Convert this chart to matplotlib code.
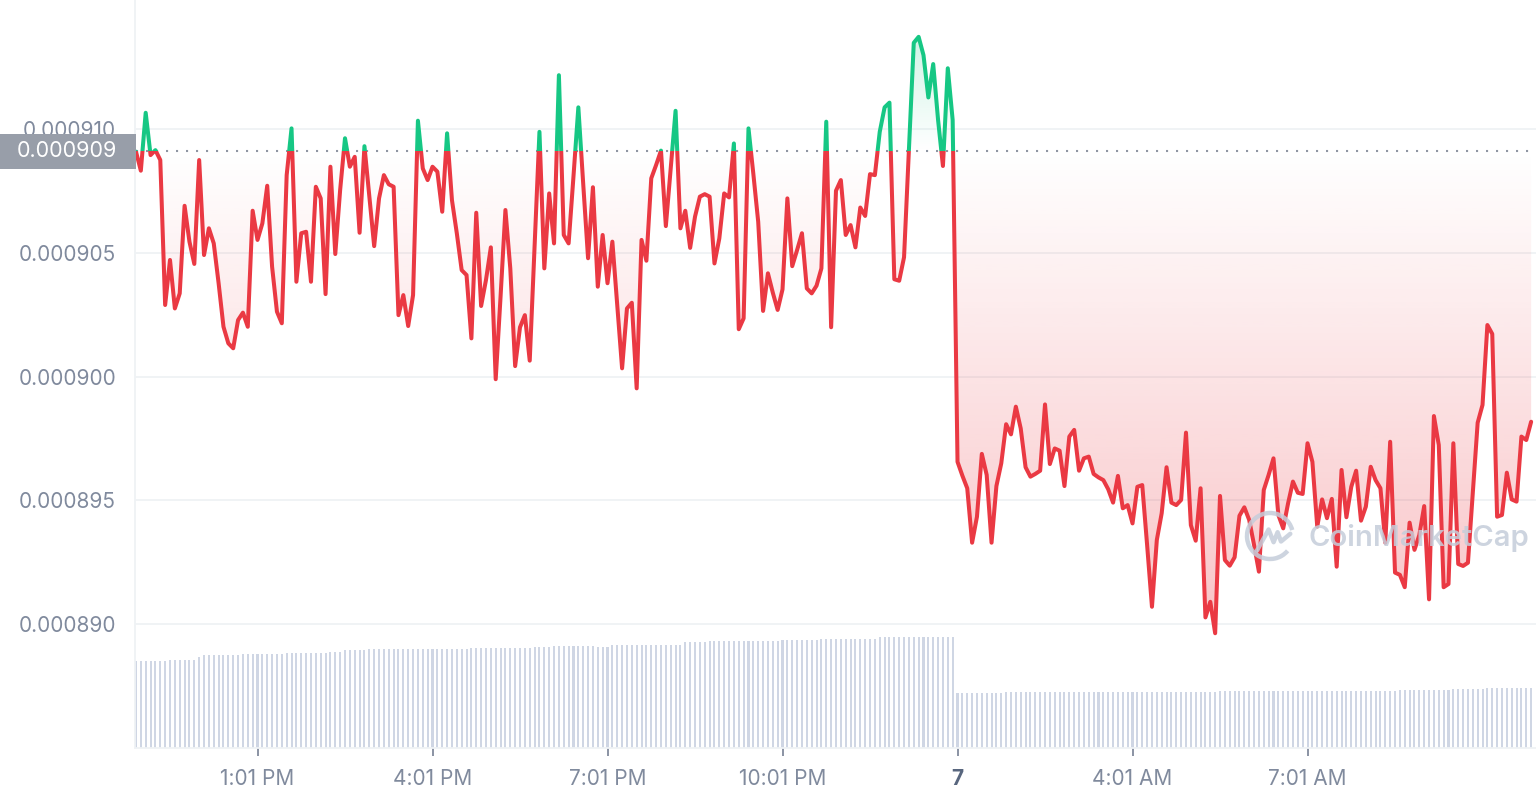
import numpy as np
import matplotlib
matplotlib.use("Agg")
import matplotlib.pyplot as plt
from matplotlib.path import Path
from matplotlib.patches import PathPatch, Rectangle, Arc
from matplotlib.colors import to_rgb
from matplotlib.transforms import blended_transform_factory, IdentityTransform

plt.rcParams["font.family"] = ["Inter", "DejaVu Sans"]

# ── Data (5-minute samples, starting 10:56 AM) ─────────────────────────────
# prices in units of 1e-6
PRICE_E6 = [
    909.10, 908.33, 910.67, 908.96, 909.16, 908.76, 902.90, 904.72, 902.76, 903.37,
    906.91, 905.46, 904.56, 908.76, 904.92, 906.00, 905.39, 903.78, 902.02, 901.35,
    901.15, 902.29, 902.59, 902.02, 906.71, 905.53, 906.20, 907.72, 904.45, 902.63,
    902.16, 908.15, 910.04, 903.84, 905.80, 905.86, 903.84, 907.68, 907.21, 903.34,
    908.49, 904.96, 907.55, 909.64, 908.49, 908.89, 905.82, 909.32, 907.28, 905.28,
    907.21, 908.15, 907.78, 907.68, 902.49, 903.30, 902.05, 903.30, 910.35, 908.42,
    907.95, 908.49, 908.29, 906.67, 909.84, 907.14, 905.80, 904.31, 904.11, 901.55,
    906.63, 902.86, 903.91, 905.23, 899.90, 903.24, 906.74, 904.38, 900.43, 902.00,
    902.49, 900.65, 905.30, 909.90, 904.38, 907.41, 905.39, 912.19, 905.73, 905.39,
    908.10, 910.89, 907.80, 904.79, 907.66, 903.64, 905.73, 903.78, 905.46, 902.90,
    900.34, 902.76, 902.99, 899.53, 905.53, 904.69, 908.02, 908.56, 909.14, 906.09,
    908.40, 910.75, 906.00, 906.71, 905.21, 906.47, 907.28, 907.38, 907.28, 904.58,
    905.59, 907.41, 907.25, 909.43, 901.92, 902.36, 910.04, 908.20, 906.26, 902.66,
    904.18, 903.40, 902.70, 903.53, 907.21, 904.47, 905.12, 905.80, 903.57, 903.37,
    903.68, 904.38, 910.31, 902.00, 907.52, 907.95, 905.73, 906.13, 905.23, 906.84,
    906.50, 908.19, 908.15, 909.90, 910.89, 911.08, 903.94, 903.88, 904.83, 909.20,
    913.50, 913.74, 913.00, 911.29, 912.64, 910.38, 908.52, 912.47, 910.38, 896.56,
    896.00, 895.49, 893.29, 894.34, 896.88, 896.03, 893.29, 895.58, 896.50, 898.08,
    897.67, 898.79, 897.91, 896.34, 895.96, 896.07, 896.20, 898.88, 896.47, 897.10,
    897.01, 895.58, 897.58, 897.85, 896.20, 896.70, 896.77, 896.07, 895.93, 895.82,
    895.45, 894.91, 895.99, 894.68, 894.81, 894.07, 895.55, 895.62, 893.20, 890.70,
    893.40, 894.48, 896.34, 894.91, 894.81, 895.02, 897.74, 894.00, 893.37, 895.49,
    890.27, 890.90, 889.63, 895.18, 892.59, 892.36, 892.70, 894.38, 894.72, 894.21,
    893.20, 892.12, 895.42, 896.03, 896.70, 894.41, 893.87, 894.88, 895.76, 895.31,
    895.26, 897.31, 896.56, 893.94, 895.04, 894.28, 895.06, 892.32, 896.23, 894.32,
    895.55, 896.20, 894.18, 894.75, 896.36, 895.82, 895.49, 893.29, 897.37, 892.08,
    891.99, 891.49, 894.10, 893.00, 893.60, 894.77, 891.00, 898.41, 897.24, 891.49,
    891.62, 897.31, 892.43, 892.35, 892.48, 895.30, 898.14, 898.86, 902.09, 901.73,
    894.34, 894.41, 896.12, 895.04, 894.95, 897.58, 897.44, 898.18,
]
BASELINE = 0.00090914

# volume (relative units), as (number of samples, value) runs
VOLUME_RUNS = [
    (7, 86.7), (6, 87.7), (1, 90.7), (8, 92.7), (9, 93.7), (9, 94.7), (3, 95.7),
    (5, 97.7), (21, 98.7), (13, 99.7), (4, 100.7), (9, 101.7), (3, 101.0),
    (15, 102.7), (5, 105.7), (15, 107.5), (8, 108.5), (12, 109.3), (16, 110.7),
    (10, 54.7), (44, 55.7), (37, 56.7), (11, 57.7), (7, 59.3), (10, 60.0),
]

Y_TICKS = [0.000890, 0.000895, 0.000900, 0.000905, 0.000910]
X_TICK_IDX = [25, 61, 97, 133, 169, 205, 241]
X_TICK_LABELS = ["1:01 PM", "4:01 PM", "7:01 PM", "10:01 PM", "7", "4:01 AM", "7:01 AM"]

# ── Styles ─────────────────────────────────────────────────────────────────
RED = "#ea3943"
GREEN = "#16c784"
GRID = "#eff2f5"
TEXT = "#808a9d"
BAR = "#cfd6e4"

price = np.array(PRICE_E6) * 1e-6
idx = np.arange(len(price))
vol = np.concatenate([[v] * n for n, v in VOLUME_RUNS])

W, H = 1536, 800
fig = plt.figure(figsize=(W / 100, H / 100), dpi=100)
ax = fig.add_axes([135 / W, 52 / H, (W - 135) / W, 748 / H])
axv = ax.twinx()
ax.set_zorder(axv.get_zorder() + 1)
ax.patch.set_visible(False)

XLIM = (-0.2, 288.0)
YLIM = (884.99e-6, 915.23e-6)

# ── Volume bars ────────────────────────────────────────────────────────────
axv.bar(idx, vol, width=0.42, color=BAR, lw=0)
axv.set_ylim(0, vol.max() * 748 / 110.7)
axv.set_yticks([])
for s in axv.spines.values():
    s.set_visible(False)


# ── Gradient fills between price and baseline ──────────────────────────────
def gradient_fill(where, color, far, alpha_far):
    poly = ax.fill_between(idx, price, BASELINE, where=where, interpolate=True,
                           facecolor="none", edgecolor="none")
    path = Path.make_compound_path(*poly.get_paths())
    patch = PathPatch(path, facecolor="none", edgecolor="none", transform=ax.transData)
    ax.add_patch(patch)
    n = 256
    rgba = np.zeros((n, 1, 4))
    rgba[..., :3] = to_rgb(color)
    lo, hi = min(far, BASELINE), max(far, BASELINE)
    if far < BASELINE:
        rgba[:, 0, 3] = np.linspace(alpha_far, 0, n)
    else:
        rgba[:, 0, 3] = np.linspace(0, alpha_far, n)
    im = ax.imshow(rgba, extent=[idx[0], idx[-1], lo, hi], origin="lower",
                   aspect="auto", zorder=1, interpolation="bilinear")
    im.set_clip_path(patch)


gradient_fill(price <= BASELINE, RED, price.min(), 0.30)
gradient_fill(price >= BASELINE, GREEN, price.max(), 0.20)

# baseline dotted
ax.plot([idx[0], idx[-1]], [BASELINE, BASELINE], color="#8f96a3", lw=1.5,
        linestyle=(0, (1, 3.8)), zorder=3)

# ── Price line, coloured above/below baseline ─────────────────────────────
for color, y0, h in [(GREEN, BASELINE, 1.0), (RED, BASELINE - 1.0, 1.0)]:
    ln, = ax.plot(idx, price, color=color, lw=2.9, zorder=4,
                  solid_joinstyle="round", solid_capstyle="round")
    clip = Rectangle((XLIM[0] - 5, y0), 400, h, transform=ax.transData,
                     facecolor="none", edgecolor="none")
    ax.add_patch(clip)
    ln.set_clip_path(clip)

ax.set_xlim(*XLIM)
ax.set_ylim(*YLIM)
axv.set_xlim(*XLIM)

# ── Axes styling ───────────────────────────────────────────────────────────
ax.set_yticks(Y_TICKS)
ax.set_yticklabels([f"{v:.6f}" for v in Y_TICKS])
ax.tick_params(axis="y", length=0, pad=13.5, labelsize=15, labelcolor=TEXT)
ax.yaxis.grid(True, color=GRID, lw=1.3)
ax.set_axisbelow(True)

ax.set_xticks(X_TICK_IDX)
ax.set_xticklabels(X_TICK_LABELS)
ax.tick_params(axis="x", length=6, width=1.4, color="#8a93a3", pad=9,
               labelsize=15, labelcolor=TEXT)
for lab in ax.get_xticklabels():
    if lab.get_text() == "7":
        lab.set_fontweight("bold")
        lab.set_color("#58667e")

for side in ["top", "right"]:
    ax.spines[side].set_visible(False)
for side in ["left", "bottom"]:
    ax.spines[side].set_color(GRID)
    ax.spines[side].set_linewidth(1.3)

# ── Current-price label on the left ────────────────────────────────────────
tr = blended_transform_factory(fig.transFigure, ax.transData)
box_h = 35 / 748 * (YLIM[1] - YLIM[0])
fig.add_artist(Rectangle((0, BASELINE - box_h / 2 - 0.03e-6), 136 / W, box_h,
                         transform=tr, facecolor="#989ea9", edgecolor="none", zorder=5))
fig.text(67 / W, BASELINE - 0.03e-6, f"{BASELINE:.6f}", transform=tr, ha="center",
         va="center", color="white", fontsize=15.5, zorder=6)

# ── Watermark ──────────────────────────────────────────────────────────────
WM = "#c5cdda"
fig.text(1308 / W, 1 - 538 / H, "CoinMarketCap", ha="left", va="center",
         fontsize=21, fontweight="semibold", color=WM, alpha=0.85, zorder=7)
cx, cy = 1270, H - 536
fig.add_artist(Arc((cx, cy), 46, 46, theta1=15, theta2=320, transform=IdentityTransform(),
                   color=WM, lw=3.2, alpha=0.85, zorder=7))
wave = np.array([[-13, -14.5], [-1.4, 6.5], [3.6, -6.2], [7.6, 3.8], [11, -5.5], [20.3, 2.2]])
fig.add_artist(plt.Line2D(cx + wave[:, 0], cy + wave[:, 1], transform=IdentityTransform(),
                          color=WM, lw=3.2, alpha=0.85, zorder=7,
                          solid_joinstyle="round", solid_capstyle="round"))

fig.savefig("out.png", dpi=100)
